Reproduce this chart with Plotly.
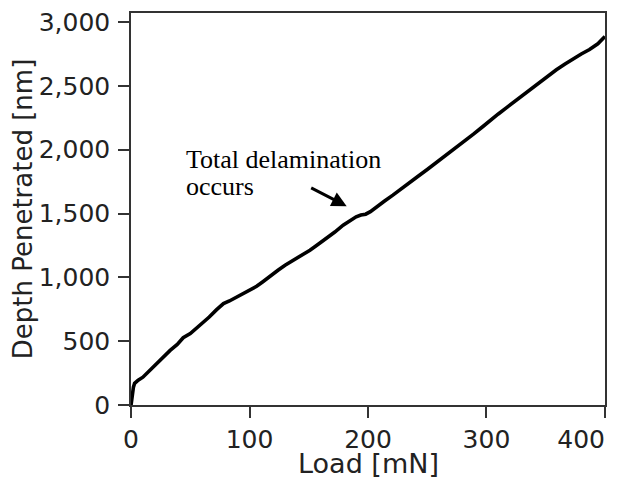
import plotly.graph_objects as go

load_mN = [0, 0.3, 1, 2, 3, 6, 10, 15, 21, 27, 33, 39, 44, 50, 55, 61, 66, 72, 78, 83,
           89, 95, 100, 106, 111, 117, 124, 130, 137, 144, 151, 158, 165, 172, 179, 185,
           190, 194, 198, 202, 207, 214, 221, 228, 234, 242, 250, 258, 265, 273, 281, 289,
           297, 303, 310, 317, 324, 331, 338, 345, 352, 359, 366, 373, 380, 387, 394, 400]
depth_nm = [0, 30, 90, 140, 170, 195, 218, 265, 323, 375, 428, 475, 527, 560, 598, 645, 689, 745, 794, 815,
            846, 875, 899, 930, 964, 1010, 1056, 1095, 1134, 1175, 1213, 1260, 1305, 1355, 1409, 1445,
            1474, 1488, 1495, 1515, 1553, 1598, 1644, 1690, 1736, 1790, 1845, 1900, 1955, 2010, 2065, 2122,
            2182, 2230, 2280, 2330, 2380, 2429, 2480, 2530, 2580, 2626, 2670, 2712, 2750, 2785, 2830, 2887]

x_ticks = [0, 100, 200, 300, 400]
x_tick_labels = ["0", "100", "200", "300", "400\u00a0\u00a0\u00a0\u00a0\u00a0\u00a0"]
y_ticks = [0, 500, 1000, 1500, 2000, 2500, 3000]
y_tick_labels = ["0", "500", "1,000", "1,500", "2,000", "2,500", "3,000"]

x_title = "Load [mN]"
y_title = "Depth Penetrated [nm]"
note_line1 = "Total delamination"
note_line2 = "occurs"

fig = go.Figure()
fig.add_trace(go.Scatter(x=load_mN, y=depth_nm, mode="lines",
                         line=dict(color="black", width=3.6), showlegend=False))

axis_font = dict(family="DejaVu Sans", size=25, color="#222222")

fig.update_xaxes(range=[-0.05, 400.05], tickvals=x_ticks, ticktext=x_tick_labels,
                 ticks="outside", ticklen=11,
                 tickwidth=1.5, tickcolor="#333333", showline=True, linecolor="#333333",
                 linewidth=1.5, mirror=True, showgrid=False, zeroline=False, automargin=False,
                 tickfont=axis_font, ticklabeloverflow="allow")
fig.update_yaxes(range=[0, 3071], tickvals=y_ticks, ticktext=y_tick_labels, ticks="outside",
                 ticklen=11, tickwidth=1.5, tickcolor="#333333", showline=True,
                 linecolor="#333333", linewidth=1.5, mirror=True, showgrid=False,
                 zeroline=False, tickfont=axis_font, automargin=False,
                 ticklabeloverflow="allow", ticklabelstandoff=3,
                 title=dict(text=y_title,
                            font=dict(family="DejaVu Sans", size=26, color="#222222"), standoff=0))

fig.add_annotation(xref="x domain", yref="y domain", x=0.5, y=0, yshift=-58,
                   text=x_title, showarrow=False, xanchor="center", yanchor="middle",
                   font=dict(family="DejaVu Sans", size=27, color="#222222"))

serif = dict(family="Liberation Serif", size=26, color="black")
fig.add_annotation(x=45, y=1925, text=note_line1, showarrow=False, xanchor="left",
                   yanchor="middle", font=serif)
fig.add_annotation(x=45, y=1712, text=note_line2, showarrow=False, xanchor="left",
                   yanchor="middle", font=serif)
fig.add_annotation(x=182, y=1558, ax=-37, ay=-19, text="", showarrow=True,
                   arrowhead=2, arrowsize=1, arrowwidth=3, arrowcolor="black")

fig.update_layout(width=619, height=478, margin=dict(l=123, r=22, t=5, b=81),
                  plot_bgcolor="white", paper_bgcolor="white")
fig.write_html("out.html")
